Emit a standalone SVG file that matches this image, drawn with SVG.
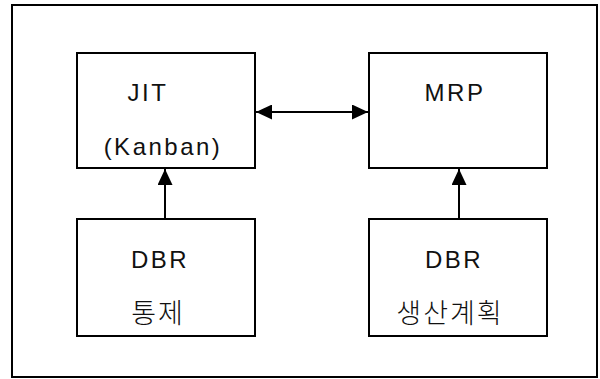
<svg xmlns="http://www.w3.org/2000/svg" width="600" height="379" viewBox="0 0 600 379">
<style>
.box{fill:#fff;stroke:#000;stroke-width:2}
.t{font-family:"Liberation Sans",Arial,sans-serif;font-size:24px;fill:#111;text-anchor:middle;letter-spacing:2.5px}
.k{font-family:"Noto Sans CJK KR",sans-serif;font-weight:300;font-size:27px;fill:#111;text-anchor:middle;letter-spacing:2px}
.ln{stroke:#000;stroke-width:2;fill:none}
</style>
<defs>
<marker id="ah" viewBox="0 0 16 15" refX="16" refY="7.5" markerWidth="16" markerHeight="15" markerUnits="userSpaceOnUse" orient="auto-start-reverse">
<path d="M0,0 L16,7.5 L0,15 Z" fill="#000"/>
</marker>
</defs>
<rect x="0" y="0" width="600" height="379" fill="#fff"/>
<rect id="frame" x="12" y="5" width="585" height="372" fill="none" stroke="#000" stroke-width="2"/>
<g id="jit">
<rect class="box" x="77" y="53" width="178" height="115"/>
<text class="t" x="148" y="101">JIT</text>
<text class="t" x="163" y="155">(Kanban)</text>
</g>
<g id="mrp">
<rect class="box" x="369" y="53" width="178" height="115"/>
<text class="t" x="455" y="101">MRP</text>
</g>
<g id="dbr1">
<rect class="box" x="77" y="219" width="178" height="117"/>
<text class="t" x="160" y="268">DBR</text>
<text class="k" x="158" y="323">통제</text>
</g>
<g id="dbr2">
<rect class="box" x="369" y="219" width="178" height="117"/>
<text class="t" x="454" y="268">DBR</text>
<text class="k" x="450" y="323">생산계획</text>
</g>
<g id="connectors">
<line class="ln" x1="256" y1="112" x2="368" y2="112" marker-start="url(#ah)" marker-end="url(#ah)"/>
<line class="ln" x1="165" y1="218" x2="165" y2="169" marker-end="url(#ah)"/>
<line class="ln" x1="459" y1="218" x2="459" y2="169" marker-end="url(#ah)"/>
</g>
</svg>
